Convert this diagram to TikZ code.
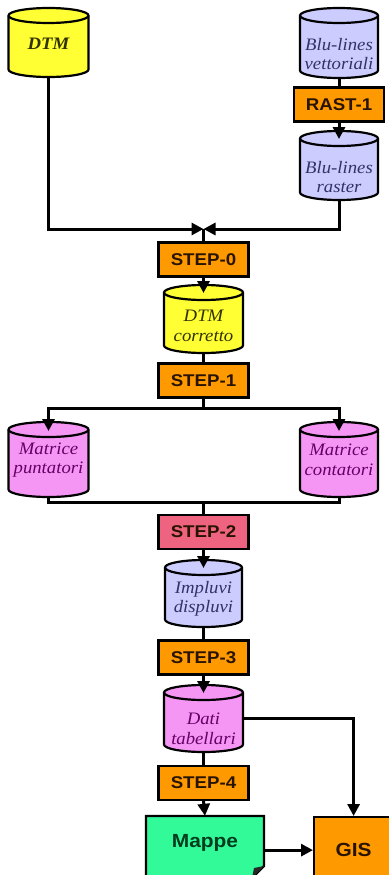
\documentclass[tikz,border=0pt]{standalone}
\usepackage{fontspec}
\setmainfont[FakeStretch=1.07]{Liberation Serif}
\newfontfamily\arialb[FakeStretch=1.1]{Liberation Sans}
\usetikzlibrary{arrows.meta}
\definecolor{cyel}{RGB}{255,255,51}
\definecolor{clav}{RGB}{204,204,255}
\definecolor{cpink}{RGB}{245,150,245}
\definecolor{corange}{RGB}{255,153,0}
\definecolor{cred}{RGB}{238,100,128}
\definecolor{cgreen}{RGB}{51,250,153}
\definecolor{tstep}{RGB}{40,20,0}
\definecolor{tolive}{RGB}{50,50,0}
\definecolor{tblue}{RGB}{50,50,102}
\definecolor{tpurple}{RGB}{102,0,102}
\definecolor{tgreen}{RGB}{0,60,30}
\tikzset{
  conn/.style={line width=3pt},
  arr/.style={conn,-{Triangle[length=12pt,width=12pt]}},
  outline/.style={line width=2.2pt},
  stepbox/.style={draw,outline,fill=corange,minimum width=90pt,minimum height=34pt,inner sep=0pt,
    font=\arialb\bfseries\fontsize{17}{17}\selectfont,text=tstep},
  cylframe/.style={inner sep=0pt,draw=none},
  cyltext/.style={inner sep=0pt,align=center,font=\itshape\fontsize{17.5}{19.5}\selectfont},
}
% #1 name, #2 x centre, #3 y top (px), #4 width, #5 height, #6 fill, #7 text colour, #8 text, #9 text centre y
\newcommand\dbcyl[9]{%
  \draw[outline,fill=#6] ({#2-#4/2},{-#3-7.5}) -- ({#2-#4/2},{-#3-#5+7.5})
    arc[start angle=180,end angle=360,x radius={#4pt/2},y radius=7.5pt]
    -- ({#2+#4/2},{-#3-7.5})
    arc[start angle=0,end angle=180,x radius={#4pt/2},y radius=7.5pt] -- cycle;
  \draw[outline] ({#2-#4/2},{-#3-7.5}) arc[start angle=180,end angle=360,x radius={#4pt/2},y radius=7.5pt];
  \node[cylframe,minimum width=#4pt,minimum height=#5pt,anchor=north] (#1) at (#2,-#3) {};
  \node[cyltext,text=#7] (#1-t) at (#2,-#9) {#8};
}
\begin{document}
\begin{tikzpicture}[x=1pt,y=1pt]
\useasboundingbox (0,0) rectangle (388,-875);
\fill[white] (0,0) rectangle (388,-875);

% cylinders
\dbcyl{dtm}{48.5}{8}{80}{69}{cyel}{tolive}{\bfseries DTM}{44}
\dbcyl{blv}{339}{8}{78}{70}{clav}{tblue}{Blu-lines\\vettoriali}{54}
\dbcyl{blr}{339}{131}{78}{69}{clav}{tblue}{Blu-lines\\raster}{177}
\dbcyl{dtmc}{203.5}{285}{79}{68}{cyel}{tolive}{DTM\\corretto}{326}
\dbcyl{mp}{48.5}{422}{80}{75}{cpink}{tpurple}{Matrice\\puntatori}{460}
\dbcyl{mc}{339}{422}{78}{75}{cpink}{tpurple}{Matrice\\contatori}{460}
\dbcyl{imp}{203.5}{560}{77}{67}{clav}{tblue}{Impluvi\\displuvi}{599}
\dbcyl{dati}{203.5}{685}{79}{67}{cpink}{tpurple}{Dati\\tabellari}{729}

% process boxes
\node[stepbox] (rast1) at (339,-104.5) {RAST-1};
\node[stepbox] (step0) at (203.5,-259.5) {STEP-0};
\node[stepbox] (step1) at (203.5,-380.5) {STEP-1};
\node[stepbox,fill=cred] (step2) at (203.5,-532) {STEP-2};
\node[stepbox] (step3) at (203.5,-657.5) {STEP-3};
\node[stepbox] (step4) at (203.5,-783) {STEP-4};

% Mappe (document shape)
\draw[outline,fill=cgreen] (146,-816) -- (264,-816) -- (264,-866) -- (252,-878) -- (146,-878) -- cycle;
\fill[black!85] (264,-866) -- (252,-878) -- (254,-868) -- cycle;
\node[inner sep=0pt,minimum width=118pt,minimum height=54pt,
  font=\arialb\bfseries\fontsize{19}{19}\selectfont,text=tgreen] (mappe) at (205,-843) {Mappe};

% GIS
\node[draw,outline,fill=corange,minimum width=79pt,minimum height=66pt,inner sep=0pt,anchor=north west,
  font=\arialb\bfseries\fontsize{19}{19}\selectfont,text=tstep] (gis) at (313,-816) {GIS};

% connectors
\coordinate (j0) at (203.5,-229);
\coordinate (s1) at (203.5,-408);
\coordinate (s2) at (203.5,-502);
\draw[conn] (blv.south) -- (rast1.north);
\draw[arr] (rast1.south) -- ([yshift=-8pt]blr.north);
\draw[arr] (dtm.south) |- (j0);
\draw[arr] (blr.south) |- (j0);
\draw[conn] (j0) -- (step0.north);
\draw[arr] (step0.south) -- ([yshift=-8pt]dtmc.north);
\draw[conn] (dtmc.south) -- (step1.north);
\draw[conn] (step1.south) -- (s1);
\draw[arr] (s1) -| ([yshift=-9pt]mp.north);
\draw[arr] (s1) -| ([yshift=-9pt]mc.north);
\draw[conn] (mp.south) |- (s2) -| (mc.south);
\draw[conn] (s2) -- (step2.north);
\draw[arr] (step2.south) -- ([yshift=-8pt]imp.north);
\draw[conn] (imp.south) -- (step3.north);
\draw[arr] (step3.south) -- ([yshift=-8pt]dati.north);
\draw[conn] (dati.south) -- (step4.north);
\draw[arr] (step4.south) -- (mappe.north);
\draw[arr] (dati.east) -| (gis.north);
\draw[arr] (gis.west -| mappe.east) -- (gis.west);
\end{tikzpicture}
\end{document}
